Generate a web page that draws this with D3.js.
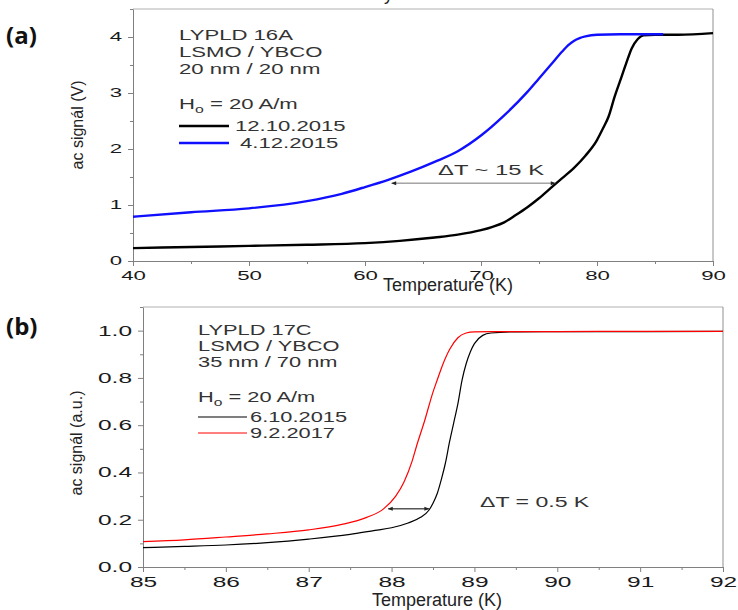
<!DOCTYPE html>
<html>
<head>
<meta charset="utf-8">
<script src="https://cdn.jsdelivr.net/npm/d3@7"></script>
<style>
  html, body { margin: 0; padding: 0; background: #fff; }
  svg { display: block; font-family: "Liberation Sans", Arial, sans-serif; }
</style>
</head>
<body>
<div id="chart"></div>
<script>
// panel (a) - LYPLD 16A
const tempA1 = [40, 45, 50, 55, 60, 63, 66, 68, 70, 71, 72, 73, 74, 75, 76, 77, 78, 79, 80, 80.5, 81, 81.5, 82, 82.5, 83, 83.5, 84, 85, 87, 90];
const sigA1 = [0.23, 0.25, 0.27, 0.29, 0.32, 0.36, 0.42, 0.47, 0.55, 0.61, 0.69, 0.82, 0.96, 1.12, 1.3, 1.48, 1.66, 1.88, 2.16, 2.36, 2.58, 2.92, 3.22, 3.52, 3.8, 3.96, 4.03, 4.04, 4.04, 4.07];
const tempA2 = [40, 45, 50, 55, 58, 60, 62, 64, 66, 68, 70, 72, 74, 75, 76, 77, 77.5, 78, 78.5, 79, 80, 82, 85.7];
const sigA2 = [0.79, 0.87, 0.94, 1.07, 1.2, 1.32, 1.45, 1.6, 1.77, 1.96, 2.24, 2.6, 3.02, 3.26, 3.5, 3.74, 3.85, 3.93, 3.98, 4.01, 4.04, 4.05, 4.05];
const ticksAx = [40, 50, 60, 70, 80, 90];
const ticksAy = [0, 1, 2, 3, 4];
const textA = ["LYPLD 16A", "LSMO / YBCO", "20 nm / 20 nm"];
const legendA = ["12.10.2015", "4.12.2015"];
const arrowA = [62.3, 76.4, 1.39];

// panel (b) - LYPLD 17C
const tempB1 = [85, 85.5, 86, 86.5, 87, 87.5, 87.8, 88, 88.2, 88.35, 88.45, 88.5, 88.55, 88.6, 88.65, 88.7, 88.75, 88.8, 88.85, 88.9, 88.95, 89.0, 89.1, 89.2, 89.5, 90, 91, 92];
const sigB1 = [0.082, 0.087, 0.093, 0.103, 0.118, 0.138, 0.155, 0.166, 0.186, 0.21, 0.24, 0.27, 0.31, 0.37, 0.44, 0.53, 0.61, 0.69, 0.79, 0.86, 0.91, 0.945, 0.98, 0.99, 0.995, 0.996, 0.996, 0.997];
const tempB2 = [85, 85.5, 86, 86.5, 87, 87.4, 87.7, 87.9, 88.05, 88.15, 88.25, 88.3, 88.4, 88.5, 88.55, 88.6, 88.7, 88.8, 88.9, 89.0, 89.2, 90, 91, 92];
const sigB2 = [0.107, 0.115, 0.127, 0.14, 0.157, 0.18, 0.21, 0.245, 0.30, 0.36, 0.45, 0.51, 0.62, 0.74, 0.79, 0.84, 0.92, 0.97, 0.99, 0.995, 0.996, 0.996, 0.997, 0.997];
const ticksBx = [85, 86, 87, 88, 89, 90, 91, 92];
const ticksBy = [0, 0.2, 0.4, 0.6, 0.8, 1.0];
const textB = ["LYPLD 17C", "LSMO / YBCO", "35 nm / 70 nm"];
const legendB = ["6.10.2015", "9.2.2017"];
const arrowB = [87.96, 88.45, 0.246];

const svg = d3.select("#chart").append("svg")
  .attr("width", 738)
  .attr("height", 610);

svg.append("defs").append("marker")
  .attr("id", "head")
  .attr("viewBox", "0 0 10 10")
  .attr("refX", 9).attr("refY", 5)
  .attr("markerWidth", 6).attr("markerHeight", 5)
  .attr("orient", "auto-start-reverse")
  .append("path").attr("d", "M0,1L10,5L0,9Z").attr("fill", "#222");

// stretched text, the picture is wider than the font
function label(g, x, y, str, size, sx, color) {
  return g.append("text")
    .attr("transform", "translate(" + x + "," + y + ") scale(" + sx + ",1)")
    .attr("font-size", size)
    .attr("fill", color || "#333")
    .text(str);
}

function panel(p) {
  const g = svg.append("g");
  const x = d3.scaleLinear().domain(p.xDomain).range([p.left, p.right]);
  const y = d3.scaleLinear().domain(p.yDomain).range([p.bottom, p.top]);

  // frame
  g.append("line").attr("x1", p.left).attr("x2", p.right).attr("y1", p.top).attr("y2", p.top).attr("stroke", "#b0b0b0");
  g.append("line").attr("x1", p.right).attr("x2", p.right).attr("y1", p.top).attr("y2", p.bottom).attr("stroke", "#909090");

  // minor ticks
  g.append("g").attr("transform", "translate(0," + p.bottom + ")")
    .call(d3.axisBottom(x).tickValues(p.xMinor).tickSize(3).tickFormat(""))
    .call((a) => a.select(".domain").remove());
  g.append("g").attr("transform", "translate(" + p.left + ",0)")
    .call(d3.axisLeft(y).tickValues(p.yMinor).tickSize(3).tickFormat(""))
    .call((a) => a.select(".domain").remove());

  // X Axis
  const xa = g.append("g").attr("transform", "translate(0," + p.bottom + ")")
    .call(d3.axisBottom(x).tickValues(p.xTicks).tickSize(5).tickPadding(5).tickSizeOuter(0).tickFormat(d3.format("d")));
  xa.selectAll(".tick text").attr("font-size", p.tickSize).attr("fill", "#1a1a1a")
    .attr("transform", "scale(" + p.tickSx + ",1)");

  // Y Axis
  const ya = g.append("g").attr("transform", "translate(" + p.left + ",0)")
    .call(d3.axisLeft(y).tickValues(p.yTicks).tickSize(5).tickPadding(6).tickSizeOuter(0).tickFormat(d3.format(p.yFormat)));
  ya.selectAll(".tick text").attr("font-size", p.tickSize).attr("fill", "#1a1a1a")
    .attr("x", -11 / p.tickSx)
    .attr("transform", "scale(" + p.tickSx + ",1)");

  g.selectAll(".domain, .tick line").attr("stroke", "#808080");

  // titles
  g.append("text")
    .attr("x", p.xTitle[0]).attr("y", p.xTitle[1])
    .attr("font-size", 18).attr("fill", "#222")
    .text("Temperature (K)");
  g.append("text")
    .attr("transform", "translate(" + p.yTitle[0] + "," + p.yTitle[1] + ") rotate(-90)")
    .attr("text-anchor", "middle")
    .attr("font-size", 16).attr("fill", "#222")
    .text(p.yLabel);

  // curves
  const line = d3.line().x((d) => x(d[0])).y((d) => y(d[1])).curve(d3.curveMonotoneX);
  p.series.forEach((s) => {
    g.append("path")
      .datum(d3.zip(s.t, s.v))
      .attr("fill", "none")
      .attr("stroke", s.color)
      .attr("stroke-width", p.lineWidth)
      .attr("d", line);
  });

  // sample text
  p.text.forEach((t, i) => label(g, p.textX, p.textY[i], t, 14, p.textSx));
  const h = label(g, p.textX, p.textY[3], "H", 14, p.textSx);
  h.append("tspan").attr("font-size", 10).attr("dy", 4).text("o");
  h.append("tspan").attr("dy", -4).text(" = 20 A/m");

  // legend
  p.series.forEach((s, i) => {
    g.append("line")
      .attr("x1", p.textX).attr("x2", p.textX + p.legLen)
      .attr("y1", p.legY[i]).attr("y2", p.legY[i])
      .attr("stroke", s.color).attr("stroke-width", p.lineWidth);
    label(g, p.legTextX[i], p.legY[i] + 5, p.legend[i], 14, p.textSx);
  });

  // delta T arrow
  g.append("line")
    .attr("x1", x(p.arrow[0])).attr("x2", x(p.arrow[1]))
    .attr("y1", y(p.arrow[2])).attr("y2", y(p.arrow[2]))
    .attr("stroke", p.arrowColor).attr("stroke-width", 1)
    .attr("marker-start", "url(#head)").attr("marker-end", "url(#head)");
  label(g, p.deltaPos[0], p.deltaPos[1], p.deltaText, 14, p.deltaSx);

  // panel letter
  g.append("text")
    .attr("x", 6).attr("y", p.letterY)
    .attr("font-family", "'Open Sans', sans-serif")
    .attr("font-weight", "bold").attr("font-size", 24).attr("fill", "#111")
    .text(p.letter);
}

panel({
  xDomain: [40, 90], yDomain: [0, 4.5],
  left: 133, right: 713, top: 9, bottom: 261,
  xTicks: ticksAx, yTicks: ticksAy, yFormat: "d",
  xMinor: d3.range(45, 90, 10), yMinor: d3.range(0.5, 4.6, 1),
  tickSize: 12, tickSx: 1.85,
  xTitle: [383, 291], yTitle: [83, 125], yLabel: "ac signál (V)",
  series: [{ t: tempA1, v: sigA1, color: "#000" }, { t: tempA2, v: sigA2, color: "#1010ff" }],
  lineWidth: 2.4,
  text: textA, textX: 179, textY: [40, 57, 74, 109], textSx: 1.58,
  legend: legendA, legY: [126, 143], legLen: 50, legTextX: [235, 240],
  arrow: arrowA, arrowColor: "#777",
  deltaText: "\u0394T ~ 15 K", deltaPos: [438, 175], deltaSx: 1.7,
  letter: "(a)", letterY: 44
});

panel({
  xDomain: [85, 92], yDomain: [0, 1.1],
  left: 143, right: 723, top: 307, bottom: 567,
  xTicks: ticksBx, yTicks: ticksBy, yFormat: ".1f",
  xMinor: d3.range(85.5, 92, 1), yMinor: d3.range(0.1, 1.11, 0.2),
  tickSize: 14, tickSx: 1.75,
  xTitle: [372, 606], yTitle: [82, 443], yLabel: "ac signál (a.u.)",
  series: [{ t: tempB1, v: sigB1, color: "#000" }, { t: tempB2, v: sigB2, color: "#ff0000" }],
  lineWidth: 1.2,
  text: textB, textX: 198, textY: [335, 351, 367, 402], textSx: 1.56,
  legend: legendB, legY: [417, 433], legLen: 49, legTextX: [250, 250],
  arrow: arrowB, arrowColor: "#000",
  deltaText: "\u0394T = 0.5 K", deltaPos: [480, 507], deltaSx: 1.65,
  letter: "(b)", letterY: 335
});

// cut-off title letter at the very top
svg.append("text").attr("x", 384).attr("y", 0).attr("font-size", 18).attr("fill", "#222").text("y");
</script>
</body>
</html>
